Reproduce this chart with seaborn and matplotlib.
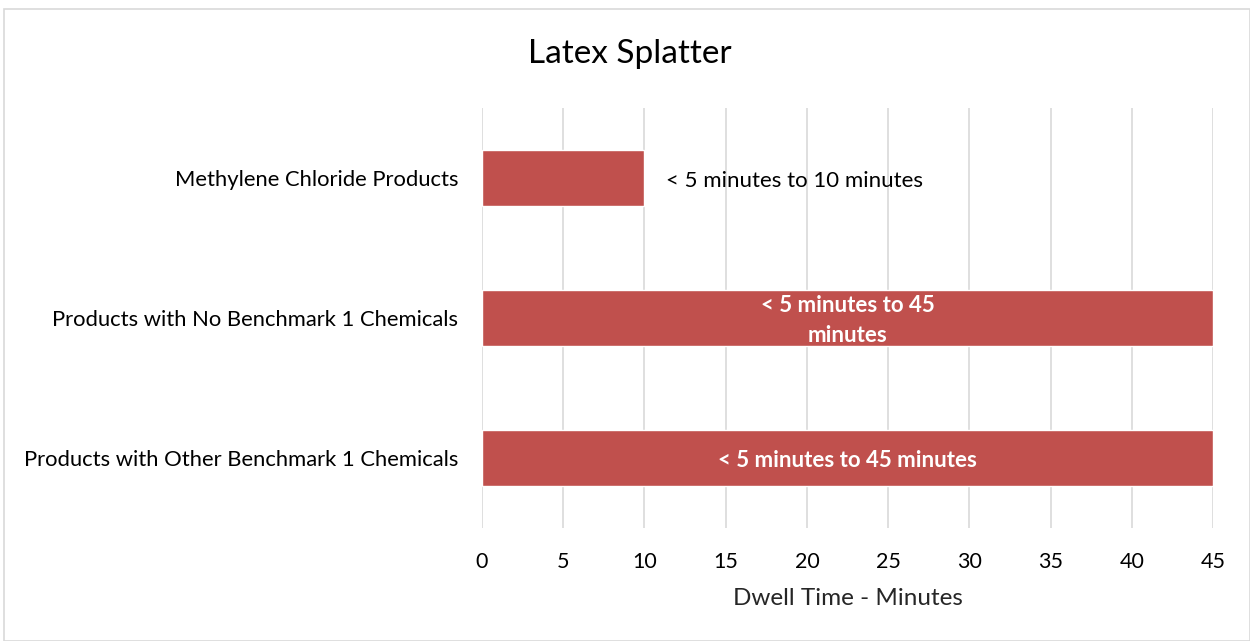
import matplotlib.pyplot as plt
import seaborn as sns
import pandas as pd
from matplotlib.patches import Rectangle

# Chart data
categories = [
    "Methylene Chloride Products",
    "Products with No Benchmark 1 Chemicals",
    "Products with Other Benchmark 1 Chemicals",
]
dwell_max = [10, 45, 45]
bar_labels = [
    "< 5 minutes to 10 minutes",
    "< 5 minutes to 45\nminutes",
    "< 5 minutes to 45 minutes",
]
x_ticks = [0, 5, 10, 15, 20, 25, 30, 35, 40, 45]

df = pd.DataFrame({"category": categories, "minutes": dwell_max})

sns.set_theme(style="white")
plt.rcParams["font.family"] = ["Lato", "DejaVu Sans"]

fig = plt.figure(figsize=(12.5, 6.41), dpi=100)
ax = fig.add_axes([0.3856, 0.1763, 0.5848, 0.6552])

bar_color = "#C0504D"
sns.barplot(data=df, x="minutes", y="category", orient="h", color=bar_color,
            width=0.4, saturation=1, ax=ax)

ax.set_xlim(0, 45)
ax.set_ylim(2.5, -0.5)
ax.set_xticks(x_ticks)
ax.xaxis.grid(True, color="#D9D9D9", linewidth=1.2)
ax.set_axisbelow(True)
for s in ax.spines.values():
    s.set_visible(False)
ax.tick_params(axis="both", length=0, colors="black")
ax.tick_params(axis="x", pad=17, labelsize=15.5)
ax.tick_params(axis="y", pad=17, labelsize=15.8)
ax.set_ylabel("")
ax.set_xlabel("Dwell Time - Minutes", fontsize=17.5, labelpad=12)

# bar labels
for i, (val, lab) in enumerate(zip(dwell_max, bar_labels)):
    if val < 20:
        ax.text(val + 1.3, i + 0.02, lab, va="center", ha="left", fontsize=16,
                color="black")
    else:
        ax.text(val / 2, i + 0.02, lab, va="center", ha="center", fontsize=16,
                color="white", fontweight="bold", linespacing=1.55)

fig.text(0.504, 0.915, "Latex Splatter", ha="center", va="center", fontsize=24,
         color="black")

# thin chart border
fig.patches.append(Rectangle((0.003, 0.0), 0.997, 0.986, transform=fig.transFigure,
                             fill=False, edgecolor="#D9D9D9", linewidth=1.2))

fig.savefig("out.png", dpi=100)
